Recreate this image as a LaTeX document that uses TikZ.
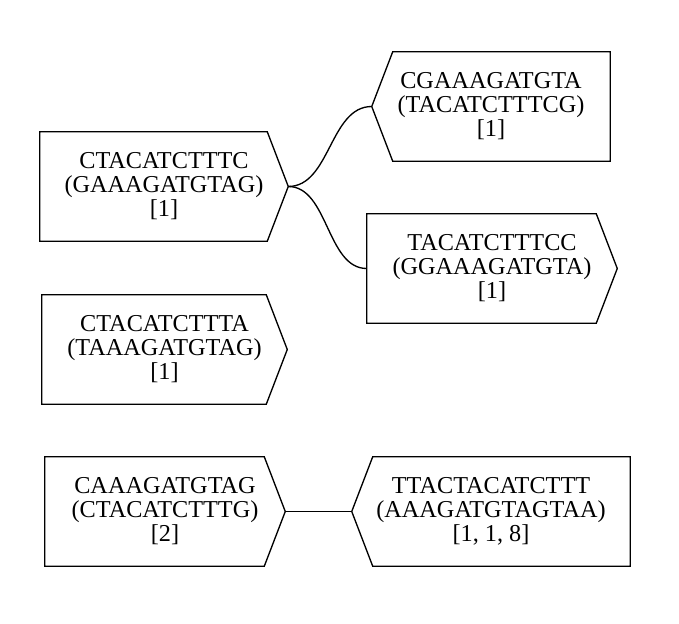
\documentclass[tikz,border=0pt]{standalone}
\usepackage{fontspec}
\setmainfont{Liberation Serif}
\usetikzlibrary{calc}
\tikzset{
  seqbox/.style={inner sep=0pt, minimum height=81.75pt, align=center, font=\fontsize{18.2}{18}\selectfont},
  seqline/.style={line width=1pt, line join=miter}
}
\begin{document}
\begin{tikzpicture}[x=0.75pt,y=0.75pt,yscale=-1,xscale=1]
		\useasboundingbox (0,0) rectangle (679,624);
		\node (ctacc) [seqbox, minimum width=186pt] at (164,186.5) {CTACATCTTTC\\(GAAAGATGTAG)\\{[1]}};
		\node (cgaaa) [seqbox, minimum width=178.5pt] at (491,106.5) {CGAAAGATGTA\\(TACATCTTTCG)\\{[1]}};
		\node (tacat) [seqbox, minimum width=187.5pt] at (492,268.5) {TACATCTTTCC\\(GGAAAGATGTA)\\{[1]}};
		\node (ctaca) [seqbox, minimum width=183.75pt] at (164.5,349.5) {CTACATCTTTA\\(TAAAGATGTAG)\\{[1]}};
		\node (caaag) [seqbox, minimum width=180pt] at (165,511.5) {CAAAGATGTAG\\(CTACATCTTTG)\\{[2]}};
		\node (ttact) [seqbox, minimum width=208.5pt] at (491,511.5) {TTACTACATCTTT\\(AAAGATGTAGTAA)\\{[1, 1, 8]}};
		\draw [seqline] (ctacc.north west) -- ([xshift=-15.75pt]ctacc.north east) -- (ctacc.east) -- ([xshift=-15.75pt]ctacc.south east) -- (ctacc.south west) -- cycle;
		\draw [seqline] (cgaaa.north east) -- ([xshift=15.75pt]cgaaa.north west) -- (cgaaa.west) -- ([xshift=15.75pt]cgaaa.south west) -- (cgaaa.south east) -- cycle;
		\draw [seqline] (tacat.north west) -- ([xshift=-15.75pt]tacat.north east) -- (tacat.east) -- ([xshift=-15.75pt]tacat.south east) -- (tacat.south west) -- cycle;
		\draw [seqline] (ctaca.north west) -- ([xshift=-15.75pt]ctaca.north east) -- (ctaca.east) -- ([xshift=-15.75pt]ctaca.south east) -- (ctaca.south west) -- cycle;
		\draw [seqline] (caaag.north west) -- ([xshift=-15.75pt]caaag.north east) -- (caaag.east) -- ([xshift=-15.75pt]caaag.south east) -- (caaag.south west) -- cycle;
		\draw [seqline] (ttact.north east) -- ([xshift=15.75pt]ttact.north west) -- (ttact.west) -- ([xshift=15.75pt]ttact.south west) -- (ttact.south east) -- cycle;
		\draw [seqline] (ctacc.east) .. controls ($(ctacc.east)+(42,0)$) and ($(cgaaa.west)+(-42,0)$) .. (cgaaa.west);
		\draw [seqline] (ctacc.east) .. controls ($(ctacc.east)+(40,0)$) and ($(tacat.west)+(-40,0)$) .. (tacat.west);
		\draw [seqline] (caaag.east) -- (ttact.west);
\end{tikzpicture}
\end{document}
